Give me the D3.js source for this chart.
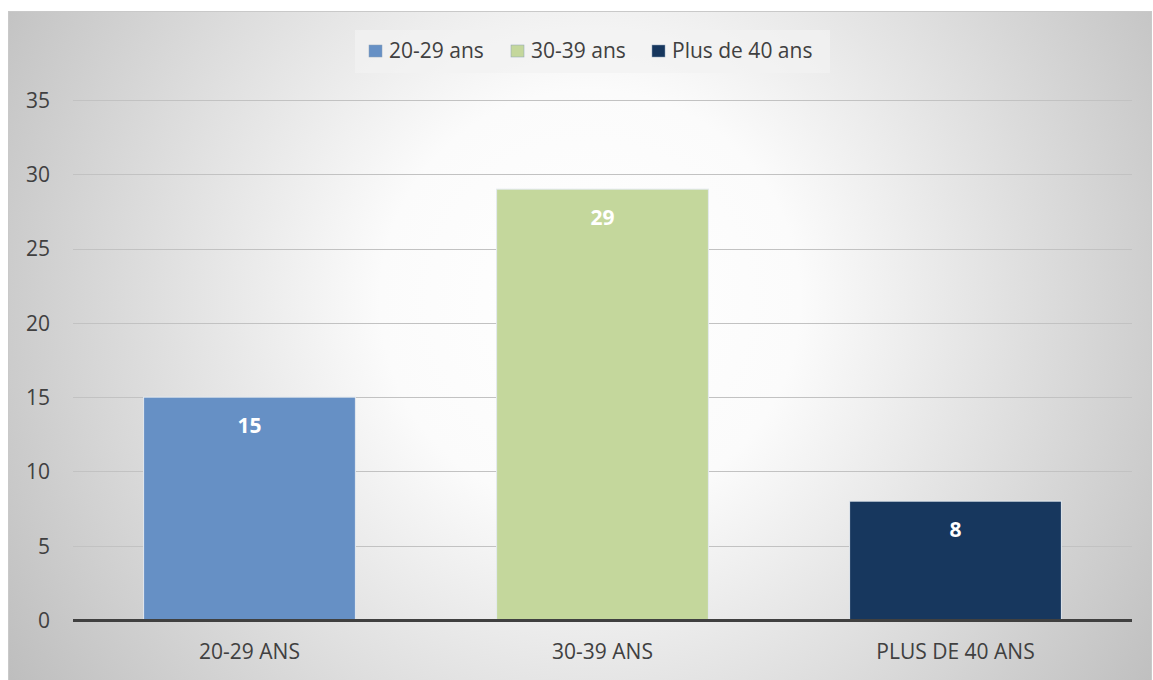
<!DOCTYPE html>
<html><head><meta charset="utf-8">
<script src="https://cdn.jsdelivr.net/npm/d3@7"></script>
<style>body{margin:0;background:#fff}svg{display:block}text{font-family:"Open Sans",sans-serif}</style>
</head><body>
<svg id="c" width="1153" height="680"></svg>
<script>
const categories = ["20-29 ANS", "30-39 ANS", "PLUS DE 40 ANS"];
const seriesNames = ["20-29 ans", "30-39 ans", "Plus de 40 ans"];
const values = [15, 29, 8];
const colors = ["#6690C5", "#C4D79C", "#17375E"];
const yTicks = [0, 5, 10, 15, 20, 25, 30, 35];

(function () {
const svg = d3.select("#c");
const defs = svg.append("defs");
const rg = defs.append("radialGradient").attr("id","bg").attr("gradientUnits","userSpaceOnUse")
  .attr("cx",590).attr("cy",300).attr("r",700);
rg.append("stop").attr("offset","0").attr("stop-color","#ffffff");
rg.append("stop").attr("offset","0.3").attr("stop-color","#fbfbfb");
rg.append("stop").attr("offset","1").attr("stop-color","#bdbdbd");

svg.append("rect").attr("x",8.5).attr("y",11.5).attr("width",1143).attr("height",680)
  .attr("fill","url(#bg)").attr("stroke","#c9c9c9").attr("stroke-width",1);

const mL = 73, mR = 1132, mT = 100, mB = 620;
const x = d3.scaleBand().domain(categories).range([mL, mR]).paddingInner(0.4).paddingOuter(0.2);
const y = d3.scaleLinear().domain([0, 35]).range([mB, mT]);

svg.append("g").selectAll("line").data(yTicks.filter(d => d > 0)).join("line")
  .attr("x1", mL).attr("x2", mR)
  .attr("y1", d => Math.round(y(d)) + 0.5).attr("y2", d => Math.round(y(d)) + 0.5)
  .attr("stroke", "#c2c2c2").attr("stroke-width", 1);

const yAxis = d3.axisLeft(y).tickValues(yTicks).tickSize(0).tickPadding(0);
const gy = svg.append("g").attr("transform", `translate(50,0)`).call(yAxis);
gy.select(".domain").remove();
gy.selectAll("text").attr("font-size", 21).attr("fill", "#404040")
  .attr("font-family", "'Open Sans',sans-serif").attr("dy", "0.35em");

svg.append("g").selectAll("rect").data(values).join("rect")
  .attr("x", (d, i) => x(categories[i]))
  .attr("width", x.bandwidth())
  .attr("y", d => y(d))
  .attr("height", d => y(0) - y(d))
  .attr("fill", (d, i) => colors[i])
  .attr("stroke", "#e4e9ef").attr("stroke-width", 1);

svg.append("g").selectAll("text").data(values).join("text")
  .attr("x", (d, i) => x(categories[i]) + x.bandwidth() / 2)
  .attr("y", d => y(d) + 36)
  .attr("text-anchor", "middle").attr("font-size", 21).attr("font-weight", "bold")
  .attr("fill", "#ffffff").text(d => d);

svg.append("line").attr("x1", mL).attr("x2", mR).attr("y1", mB + 0.5).attr("y2", mB + 0.5)
  .attr("stroke", "#404040").attr("stroke-width", 3);

const xAxis = d3.axisBottom(x).tickSize(0).tickPadding(0);
const gx = svg.append("g").attr("transform", `translate(0,${mB})`).call(xAxis);
gx.select(".domain").remove();
gx.selectAll("text").attr("font-size", 21).attr("fill", "#404040")
  .attr("font-family", "'Open Sans',sans-serif").attr("dy", null).attr("y", 39);

svg.append("rect").attr("x", 355).attr("y", 30).attr("width", 475).attr("height", 43)
  .attr("fill", "#f2f2f2").attr("opacity", 0.7);
const legX = [369, 511, 652];
const lg = svg.append("g").selectAll("g").data(seriesNames).join("g")
  .attr("transform", (d, i) => `translate(${legX[i]},45)`);
lg.append("rect").attr("width", 13).attr("height", 12).attr("fill", (d, i) => colors[i])
  .attr("stroke", "#8aa0b8").attr("stroke-width", 0.5);
lg.append("text").attr("x", 20).attr("y", 13).attr("font-size", 21).attr("fill", "#404040").text(d => d);
})();
</script>
</body></html>
